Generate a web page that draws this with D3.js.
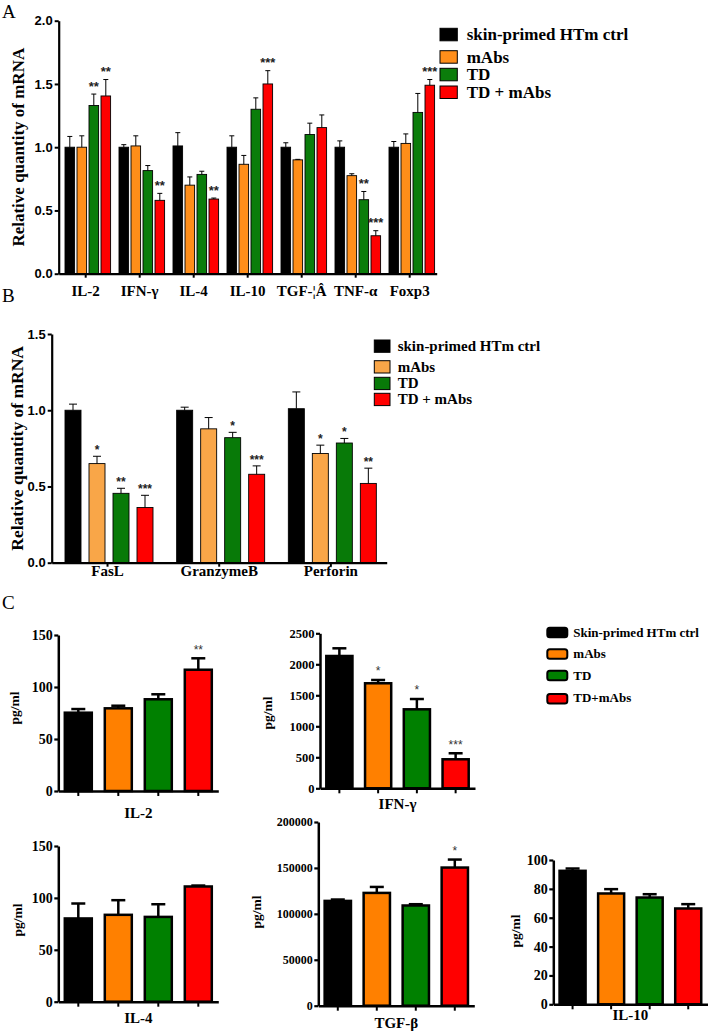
<!DOCTYPE html>
<html><head><meta charset="utf-8">
<script src="https://cdn.jsdelivr.net/npm/d3@7"></script>
<style>body{margin:0;background:#fff} svg{display:block}</style>
</head><body>
<svg id="c" width="709" height="1033"></svg>
<script>
// ---------------- DATA ----------------
const seriesA = ["skin-primed HTm ctrl", "mAbs", "TD", "TD + mAbs"];
const catsA = ["IL-2", "IFN-γ", "IL-4", "IL-10", "TGF-¦Â", "TNF-α", "Foxp3"];
const ctrlA = [1.0, 1.0, 1.01, 1.0, 1.0, 1.0, 1.0];
const ctrlAErr = [0.085, 0.02, 0.105, 0.09, 0.035, 0.05, 0.045];
const mAbsA = [1.0, 1.01, 0.70, 0.865, 0.90, 0.775, 1.03];
const mAbsAErr = [0.09, 0.08, 0.065, 0.07, 0.004, 0.015, 0.075];
const tdA = [1.33, 0.815, 0.785, 1.30, 1.10, 0.585, 1.275];
const tdAErr = [0.09, 0.04, 0.025, 0.09, 0.09, 0.065, 0.15];
const tdmA = [1.405, 0.58, 0.59, 1.50, 1.155, 0.30, 1.49];
const tdmAErr = [0.13, 0.055, 0.008, 0.105, 0.10, 0.04, 0.045];
const starsA = [
  ["", "", "", "", "", "", ""],
  ["", "", "", "", "", "", ""],
  ["**", "", "", "", "", "**", ""],
  ["**", "**", "**", "***", "", "***", "***"]
];
const ticksA = [0, 0.5, 1.0, 1.5, 2.0];

const seriesB = ["skin-primed HTm ctrl", "mAbs", "TD", "TD + mAbs"];
const catsB = ["FasL", "GranzymeB", "Perforin"];
const ctrlB = [1.0, 1.0, 1.01];
const ctrlBErr = [0.04, 0.02, 0.11];
const mAbsB = [0.65, 0.878, 0.716];
const mAbsBErr = [0.048, 0.074, 0.055];
const tdB = [0.455, 0.82, 0.785];
const tdBErr = [0.033, 0.035, 0.03];
const tdmB = [0.362, 0.58, 0.52];
const tdmBErr = [0.08, 0.055, 0.10];
const starsB = [
  ["", "", ""],
  ["*", "", "*"],
  ["**", "*", "*"],
  ["***", "***", "**"]
];
const ticksB = [0, 0.5, 1.0, 1.5];

const seriesC = ["Skin-primed HTm ctrl", "mAbs", "TD", "TD+mAbs"];
const il2C = [75.3, 79.5, 88.2, 116.6];
const il2CErr = [3.5, 2.5, 4.8, 11];
const il2CStars = ["", "", "", "**"];
const ifngC = [2134, 1694, 1274, 468];
const ifngCErr = [124, 53, 166, 97];
const ifngCStars = ["", "*", "*", "***"];
const il4C = [80.2, 83.7, 81.7, 111];
const il4CErr = [14.4, 14.1, 12.2, 0.9];
const il4CStars = ["", "", "", ""];
const tgfbC = [114100, 122800, 109100, 150400];
const tgfbCErr = [1500, 6500, 1400, 8700];
const tgfbCStars = ["", "", "", "*"];
const il10C = [92.5, 76.8, 74.0, 66.4];
const il10CErr = [1.6, 3.0, 2.3, 3.0];
const il10CStars = ["", "", "", ""];
const ticksIL2 = [0, 50, 100, 150];
const ticksIFNG = [0, 500, 1000, 1500, 2000, 2500];
const ticksIL4 = [0, 50, 100, 150];
const ticksTGFB = [0, 50000, 100000, 150000, 200000];
const ticksIL10 = [0, 20, 40, 60, 80, 100];

// ---------------- STYLE ----------------
const SERIF = "'Liberation Serif','Times New Roman',serif";
const SANS = "'Liberation Sans',Arial,sans-serif";
const colA = ["#000000", "#FF8E1A", "#0B7D0B", "#FF0000"];
const colB = ["#000000", "#F9A648", "#087A08", "#FF0000"];
const colC = ["#000000", "#FF8000", "#008000", "#FF0000"];

const svg = d3.select("#c");

// panel letters
[["A", 2, 18], ["B", 2, 302], ["C", 2, 609]].forEach(([t, x, y]) =>
  svg.append("text").attr("x", x).attr("y", y).attr("font-family", SERIF)
    .attr("font-size", 19).text(t));

// ---------------- grouped chart (A, B) ----------------
function grouped(o) {
  const g = svg.append("g");
  const x = d3.scaleBand().domain(o.cats).range([o.x0, o.x1]).padding(0);
  const inner = d3.scaleBand().domain(o.series).range(o.innerRange)
    .paddingInner(o.pi).paddingOuter(o.po);
  const y = d3.scaleLinear().domain([0, o.ymax]).range([o.yb, o.yt]);
  o.data.forEach((s, si) => {
    o.cats.forEach((c, ci) => {
      const v = s.vals[ci], e = s.errs[ci];
      const bx = x(c) + inner(o.series[si]);
      const cx = bx + inner.bandwidth() / 2;
      g.append("rect").attr("x", bx).attr("y", y(v)).attr("width", inner.bandwidth())
        .attr("height", y(0) - y(v)).attr("fill", o.colors[si])
        .attr("stroke", "#000").attr("stroke-width", o.barSW);
      g.append("line").attr("x1", cx).attr("x2", cx).attr("y1", y(v)).attr("y2", y(v + e))
        .attr("stroke", "#000").attr("stroke-width", o.errSW);
      g.append("line").attr("x1", cx - o.capW / 2).attr("x2", cx + o.capW / 2)
        .attr("y1", y(v + e)).attr("y2", y(v + e))
        .attr("stroke", "#000").attr("stroke-width", o.errSW);
      const st = o.stars[si][ci];
      if (st) g.append("text").attr("x", cx).attr("y", y(v + e) - o.starOff)
        .attr("text-anchor", "middle").attr("font-family", SANS).attr("font-weight", "bold")
        .attr("font-size", o.starFS).attr("fill", "#222").text(st);
    });
  });
  const ya = g.append("g").attr("transform", `translate(${o.x0},0)`)
    .call(d3.axisLeft(y).tickValues(o.ticks).tickFormat(d3.format(".1f"))
      .tickSize(4).tickSizeOuter(0).tickPadding(2));
  ya.select(".domain").attr("stroke-width", 2.2);
  ya.selectAll(".tick line").attr("stroke-width", 2);
  ya.selectAll("text").attr("font-family", SANS).attr("font-weight", "bold")
    .attr("font-size", 13).attr("fill", "#000");
  const xa = g.append("g").attr("transform", `translate(0,${o.yb})`)
    .call(d3.axisBottom(x).tickSize(4).tickSizeOuter(0));
  xa.select(".domain").attr("stroke-width", 2.2);
  xa.selectAll(".tick line").attr("stroke-width", 2);
  xa.selectAll("text").attr("font-family", SERIF).attr("font-weight", "bold")
    .attr("font-size", o.catFS).attr("fill", "#000")
    .attr("y", o.catBase - o.yb).attr("dy", 0);
  g.append("text").attr("transform", `translate(${o.ylabX},${(o.yb + o.yt) / 2}) rotate(-90)`)
    .attr("text-anchor", "middle").attr("font-family", SERIF).attr("font-weight", "bold")
    .attr("font-size", o.ylabFS).text("Relative quantity of mRNA");
  // legend
  o.series.forEach((s, i) => {
    const ly = o.leg.top[i];
    g.append("rect").attr("x", o.leg.x).attr("y", ly).attr("width", o.leg.w).attr("height", o.leg.h)
      .attr("fill", o.colors[i]).attr("stroke", "#000").attr("stroke-width", 1);
    g.append("text").attr("x", o.leg.tx).attr("y", o.leg.base[i])
      .attr("font-family", SERIF).attr("font-weight", "bold").attr("font-size", o.leg.fs).text(s);
  });
}

grouped({
  cats: catsA, series: seriesA, colors: colA,
  data: [
    { vals: ctrlA, errs: ctrlAErr }, { vals: mAbsA, errs: mAbsAErr },
    { vals: tdA, errs: tdAErr }, { vals: tdmA, errs: tdmAErr }
  ],
  stars: starsA, ticks: ticksA, ymax: 2,
  x0: 58.7, x1: 436.7, yb: 273.7, yt: 20.7,
  innerRange: [5.1, 53.1], pi: 0.2, po: 0.1,
  barSW: 0.9, errSW: 1, capW: 5, starFS: 13, starOff: 3.3,
  catFS: 15, catBase: 296, ylabX: 24, ylabFS: 17,
  leg: { x: 440, w: 17.3, h: 12.5, tx: 466.7, fs: 17,
    top: [28.3, 50.7, 68.3, 86], base: [39.5, 62.5, 80, 98] }
});

grouped({
  cats: catsB, series: seriesB, colors: colB,
  data: [
    { vals: ctrlB, errs: ctrlBErr }, { vals: mAbsB, errs: mAbsBErr },
    { vals: tdB, errs: tdBErr }, { vals: tdmB, errs: tdmBErr }
  ],
  stars: starsB, ticks: ticksB, ymax: 1.5,
  x0: 51.7, x1: 386.7, yb: 562.7, yt: 334,
  innerRange: [8.5, 106.1], pi: 1 / 3, po: 0.2,
  barSW: 0.9, errSW: 1, capW: 8, starFS: 12, starOff: 2,
  catFS: 15, catBase: 576, ylabX: 23, ylabFS: 17.5,
  leg: { x: 374.3, w: 15.7, h: 12.3, tx: 397.7, fs: 15,
    top: [340, 360.7, 377.3, 393.3], base: [351, 371.7, 387.7, 404.3] }
});

// ---------------- single cytokine charts (C) ----------------
function single(o) {
  const g = svg.append("g");
  const x = d3.scaleBand().domain(seriesC).range([o.x0, o.x1]).paddingInner(0.325).paddingOuter(0.1625);
  const y = d3.scaleLinear().domain([0, o.ymax]).range([o.yb, o.yt]);
  seriesC.forEach((s, i) => {
    const v = o.vals[i], e = o.errs[i];
    const bx = x(s), cx = bx + x.bandwidth() / 2;
    g.append("line").attr("x1", cx).attr("x2", cx).attr("y1", y(v)).attr("y2", y(v + e))
      .attr("stroke", "#000").attr("stroke-width", 2.5);
    g.append("line").attr("x1", cx - 7).attr("x2", cx + 7).attr("y1", y(v + e)).attr("y2", y(v + e))
      .attr("stroke", "#000").attr("stroke-width", 2.5);
    g.append("rect").attr("x", bx).attr("y", y(v)).attr("width", x.bandwidth())
      .attr("height", y(0) - y(v)).attr("fill", colC[i])
      .attr("stroke", "#000").attr("stroke-width", 2.5);
    if (o.stars[i]) g.append("text").attr("x", cx).attr("y", y(v + e) - 4.7)
      .attr("text-anchor", "middle").attr("font-family", SANS).attr("font-size", 12)
      .attr("fill", "#333").text(o.stars[i]);
  });
  const ya = g.append("g").attr("transform", `translate(${o.x0},0)`)
    .call(d3.axisLeft(y).tickValues(o.ticks).tickFormat(d3.format("d"))
      .tickSize(4).tickSizeOuter(0).tickPadding(1.5));
  ya.select(".domain").attr("stroke-width", 2.5);
  ya.selectAll(".tick line").attr("stroke-width", 2.2);
  ya.selectAll("text").attr("font-family", SERIF).attr("font-weight", "bold")
    .attr("font-size", o.tickFS).attr("fill", "#000");
  const xa = g.append("g").attr("transform", `translate(0,${o.yb})`)
    .call(d3.axisBottom(x).tickSize(5).tickSizeOuter(0).tickFormat(""));
  xa.select(".domain").attr("stroke-width", 2.5);
  xa.selectAll(".tick line").attr("stroke-width", 2);
  g.append("text").attr("x", (o.x0 + o.x1) / 2).attr("y", o.labBase)
    .attr("text-anchor", "middle").attr("font-family", SERIF).attr("font-weight", "bold")
    .attr("font-size", 15).text(o.name);
  g.append("text").attr("transform", `translate(${o.ylabX},${o.ylabY}) rotate(-90)`)
    .attr("text-anchor", "middle").attr("font-family", SERIF).attr("font-weight", "bold")
    .attr("font-size", 13.5).text("pg/ml");
}

single({ name: "IL-2", vals: il2C, errs: il2CErr, stars: il2CStars, ticks: ticksIL2, ymax: 150,
  x0: 58.3, x1: 218.3, yb: 791, yt: 635, tickFS: 14, labBase: 818, ylabX: 19, ylabY: 708 });
single({ name: "IFN-γ", vals: ifngC, errs: ifngCErr, stars: ifngCStars, ticks: ticksIFNG, ymax: 2500,
  x0: 320, x1: 475, yb: 788.3, yt: 633.3, tickFS: 12.5, labBase: 809, ylabX: 272, ylabY: 713 });
single({ name: "IL-4", vals: il4C, errs: il4CErr, stars: il4CStars, ticks: ticksIL4, ymax: 150,
  x0: 58.3, x1: 218.3, yb: 1001.7, yt: 846, tickFS: 14, labBase: 1023, ylabX: 22, ylabY: 920 });
single({ name: "TGF-β", vals: tgfbC, errs: tgfbCErr, stars: tgfbCStars, ticks: ticksTGFB, ymax: 200000,
  x0: 318.3, x1: 474.3, yb: 1005.7, yt: 822, tickFS: 12, labBase: 1028, ylabX: 261, ylabY: 912 });
single({ name: "IL-10", vals: il10C, errs: il10CErr, stars: il10CStars, ticks: ticksIL10, ymax: 100,
  x0: 553.3, x1: 707.5, yb: 1004.3, yt: 860, tickFS: 14, labBase: 1020, ylabX: 520, ylabY: 931 });

// legend C
const legCTop = [627.7, 649.3, 670.7, 694];
const legCBase = [636.7, 658.3, 679.5, 702.3];
seriesC.forEach((s, i) => {
  svg.append("rect").attr("x", 547.3).attr("y", legCTop[i]).attr("width", 20).attr("height", 9.5)
    .attr("rx", 2.5).attr("fill", colC[i]).attr("stroke", "#000").attr("stroke-width", 2);
  svg.append("text").attr("x", 573.3).attr("y", legCBase[i]).attr("font-family", SERIF)
    .attr("font-weight", "bold").attr("font-size", 13).text(s);
});
</script></body></html>
